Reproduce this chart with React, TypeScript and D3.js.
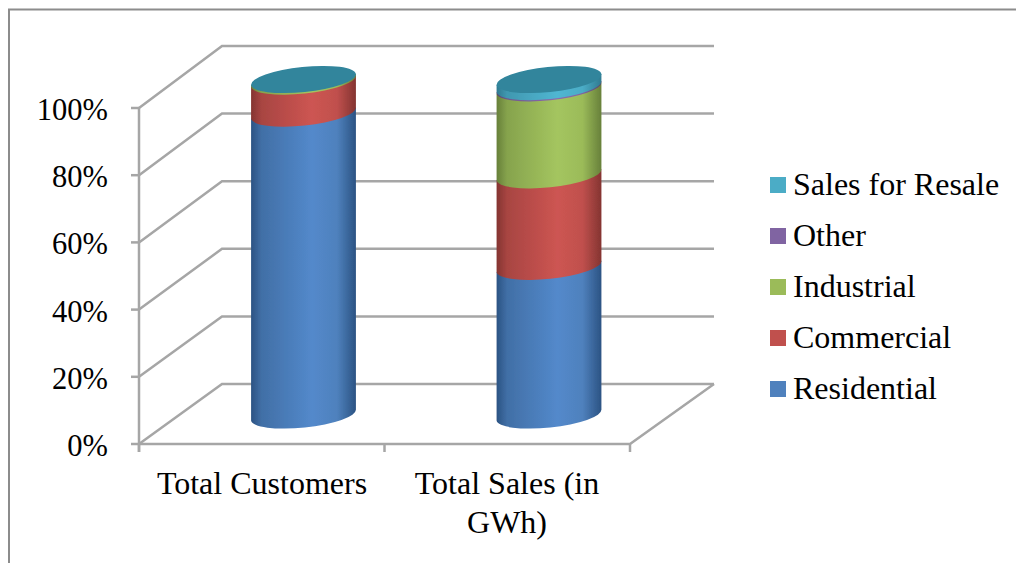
import React from 'react';
import * as d3 from 'd3';

const categories = ['Total Customers', 'Total Sales (in GWh)'];
const seriesNames = ['Residential', 'Commercial', 'Industrial', 'Other', 'Sales for Resale'];
const residential = [90, 44.3];
const commercial = [9.5, 27.3];
const industrial = [0.5, 25.9];
const other = [0, 0.4];
const salesForResale = [0, 2.1];
const seriesValues = [residential, commercial, industrial, other, salesForResale];
const colors = ['#4f81bd', '#c0504d', '#9bbb59', '#8064a2', '#4bacc6'];
const lightColors = ['#5389cb', '#cd5552', '#a4c55f', '#8a6cae', '#50b6d2'];
const darkColors = ['#2b5383', '#843431', '#67803a', '#57446f', '#2f7a90'];
const topColor = '#31859c';
const yTicks = [0, 20, 40, 60, 80, 100];
const legendOrder = ['Sales for Resale', 'Other', 'Industrial', 'Commercial', 'Residential'];

const frontY = d3.scaleLinear().domain([0, 100]).range([444, 108]);
const backY = d3.scaleLinear().domain([0, 100]).range([384, 46]);
const xBand = d3.scaleBand().domain(categories).range([139, 630]);
const cylinderY = d3.scaleLinear().domain([0, 100]).range([415, 79.5]);
const legendY = d3.scalePoint().domain(legendOrder).range([185, 389]);

const rx = 52.7;
const ry = 12.5;
const tilt = -6;
const dx = Math.cos((tilt * Math.PI) / 180) * rx;
const dy = Math.sin((tilt * Math.PI) / 180) * rx;
const depthShift = 41.75;
const font = '"Liberation Serif", "Times New Roman", serif';
const gridColor = '#a6a6a6';

const sidePath = (cx: number, y0: number, y1: number) =>
  `M${cx - dx},${y1 - dy} L${cx + dx},${y1 + dy} ` +
  `L${cx + dx},${y0 + dy} A${rx},${ry} ${tilt} 0 1 ${cx - dx},${y0 - dy} Z`;

const App = () => {
  const stacks = d3.stack<number>()
    .keys(seriesNames.map((_, i) => i))
    .value((i, k) => seriesValues[k as number][i])(categories.map((_, i) => i));

  return (
    <svg width={1016} height={563} style={{ position: 'absolute', left: 0, top: 0, background: '#fff' }} fontFamily={font}>
      <defs>
        {colors.map((c, i) => (
          <linearGradient key={i} id={`side${i}`} x1="0" x2="1" y1="0" y2="0">
            <stop offset="0" stopColor={darkColors[i]} />
            <stop offset="0.1" stopColor={d3.interpolateRgb(darkColors[i], c)(0.6)} />
            <stop offset="0.58" stopColor={lightColors[i]} />
            <stop offset="0.82" stopColor={c} />
            <stop offset="1" stopColor={darkColors[i]} />
          </linearGradient>
        ))}
        <filter id="soft" x="-5%" y="-5%" width="110%" height="110%">
          <feGaussianBlur stdDeviation="0.5" />
        </filter>
      </defs>

      <path d="M9,563 V9.5 H1016" fill="none" stroke="#8c8c8c" strokeWidth={2} />

      {/* walls */}
      {yTicks.map((t) => (
        <g key={t} fill="none" stroke={gridColor} strokeWidth={2.5}>
          <path d={`M${xBand.range()[0]},${frontY(t)} L222,${backY(t)} H714`} />
          <line x1={131} x2={139} y1={frontY(t)} y2={frontY(t)} />
        </g>
      ))}
      <g fill="none" stroke={gridColor} strokeWidth={2.5}>
        <line x1={139} x2={139} y1={frontY(100)} y2={452} />
        <path d={`M139,${frontY(0)} H630 L714,${backY(0)}`} />
        {[139, 384.5, 630].map((x) => (
          <line key={x} x1={x} x2={x} y1={frontY(0)} y2={452} />
        ))}
      </g>

      {/* cylinders */}
      {categories.map((cat, ci) => {
        const cx = xBand(cat)! + xBand.bandwidth() / 2 + depthShift;
        const total = d3.sum(seriesValues, (s) => s[ci]);
        return (
          <g key={cat} filter="url(#soft)">
            {stacks.map((layer, si) => {
              const [v0, v1] = layer[ci];
              if (v1 <= v0) return null;
              return <path key={si} d={sidePath(cx, cylinderY(v0), cylinderY(v1))} fill={`url(#side${si})`} />;
            })}
            <ellipse
              cx={cx}
              cy={cylinderY(total)}
              rx={rx}
              ry={ry}
              fill={topColor}
              transform={`rotate(${tilt} ${cx} ${cylinderY(total)})`}
            />
          </g>
        );
      })}

      {/* y labels */}
      {yTicks.map((t) => (
        <text key={t} x={108} y={frontY(t) + 12} textAnchor="end" fontSize={30.5} fill="#000">
          {t}%
        </text>
      ))}

      {/* x labels */}
      <text x={262} y={494} textAnchor="middle" fontSize={32} fill="#000">{categories[0]}</text>
      <text x={507} y={494} textAnchor="middle" fontSize={32} fill="#000">Total Sales (in</text>
      <text x={507} y={533} textAnchor="middle" fontSize={32} fill="#000">GWh)</text>

      {/* legend */}
      {legendOrder.map((name) => {
        const y = legendY(name)!;
        const c = colors[seriesNames.indexOf(name)];
        return (
          <g key={name}>
            <rect x={770} y={y - 8} width={16} height={16} fill={c} />
            <text x={793} y={y + 10} fontSize={32} fill="#000">{name}</text>
          </g>
        );
      })}
    </svg>
  );
};

export default App;
